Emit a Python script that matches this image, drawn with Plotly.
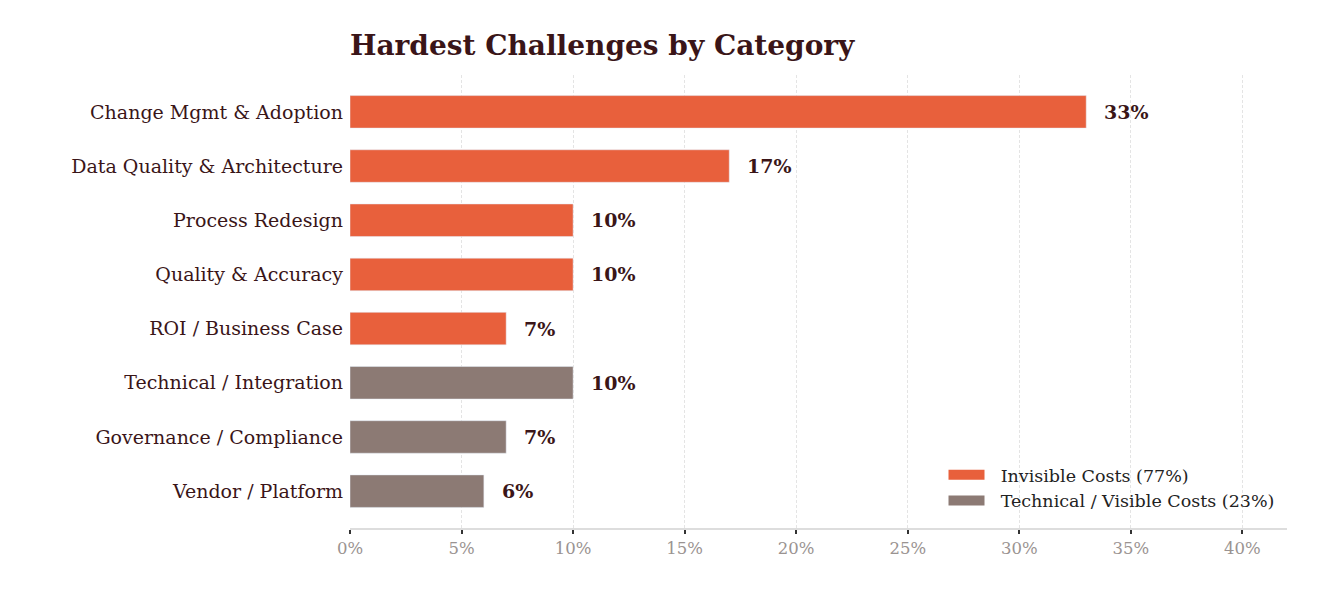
import plotly.graph_objects as go

categories = ["Change Mgmt & Adoption", "Data Quality & Architecture", "Process Redesign",
              "Quality & Accuracy", "ROI / Business Case", "Technical / Integration",
              "Governance / Compliance", "Vendor / Platform"]
invisible_cats = categories[:5]
invisible_vals = [33, 17, 10, 10, 7]
technical_cats = categories[5:]
technical_vals = [10, 7, 6]
x_ticks = [0, 5, 10, 15, 20, 25, 30, 35, 40]

orange = "#e8603c"
grey = "#8c7a74"
dark = "#3a1518"
font = "DejaVu Serif"

fig = go.Figure()
fig.add_trace(go.Bar(y=invisible_cats, x=invisible_vals, orientation="h", width=0.6,
                     marker_color=orange, showlegend=False))
fig.add_trace(go.Bar(y=technical_cats, x=technical_vals, orientation="h", width=0.6,
                     marker_color=grey, showlegend=False))
# legend-only entries so the legend keys are wide rectangles
fig.add_trace(go.Scatter(x=[None], y=[None], mode="lines", line=dict(color=orange, width=14),
                         name="\u00a0\u00a0Invisible Costs (77%)"))
fig.add_trace(go.Scatter(x=[None], y=[None], mode="lines", line=dict(color=grey, width=14),
                         name="\u00a0\u00a0Technical / Visible Costs (23%)"))

# value labels next to each bar
for c, v in zip(invisible_cats + technical_cats, invisible_vals + technical_vals):
    fig.add_annotation(x=v, y=c, text=f"<b>{v}%</b>", showarrow=False, xanchor="left",
                       xshift=16, font=dict(family=font, size=19, color=dark))

fig.update_layout(
    width=1314, height=606, plot_bgcolor="white", paper_bgcolor="white",
    margin=dict(l=342, r=35, t=67, b=86),
    barmode="overlay",
    font=dict(family=font, color=dark),
    title=dict(text="<b>Hardest Challenges by Category</b>", x=342/1314, xanchor="left",
               y=1-37/606, yanchor="middle", yref="container",
               font=dict(family=font, size=28, color=dark)),
    legend=dict(x=0.992, xanchor="right", y=0.02, yanchor="bottom",
                font=dict(family=font, size=17.5, color="#222"), bgcolor="rgba(255,255,255,0)",
                traceorder="normal", itemwidth=36),
)
fig.update_xaxes(range=[0, 42], tickvals=x_ticks, ticktext=[f"{t}%" for t in x_ticks],
                 showgrid=True, gridcolor="#e4e4e4", griddash="3px,2px", gridwidth=1,
                 showline=True, linecolor="#dddddd", linewidth=1.5,
                 ticks="outside", ticklen=4, tickcolor="#333", tickwidth=1.5,
                 tickfont=dict(family=font, size=16.5, color="#9a9391"), zeroline=False)
fig.update_yaxes(categoryorder="array", categoryarray=categories, range=[7.68, -0.68],
                 showgrid=False, showline=False, ticks="", ticklabelstandoff=6,
                 tickfont=dict(family=font, size=19, color=dark))

fig.write_html("out.html")
